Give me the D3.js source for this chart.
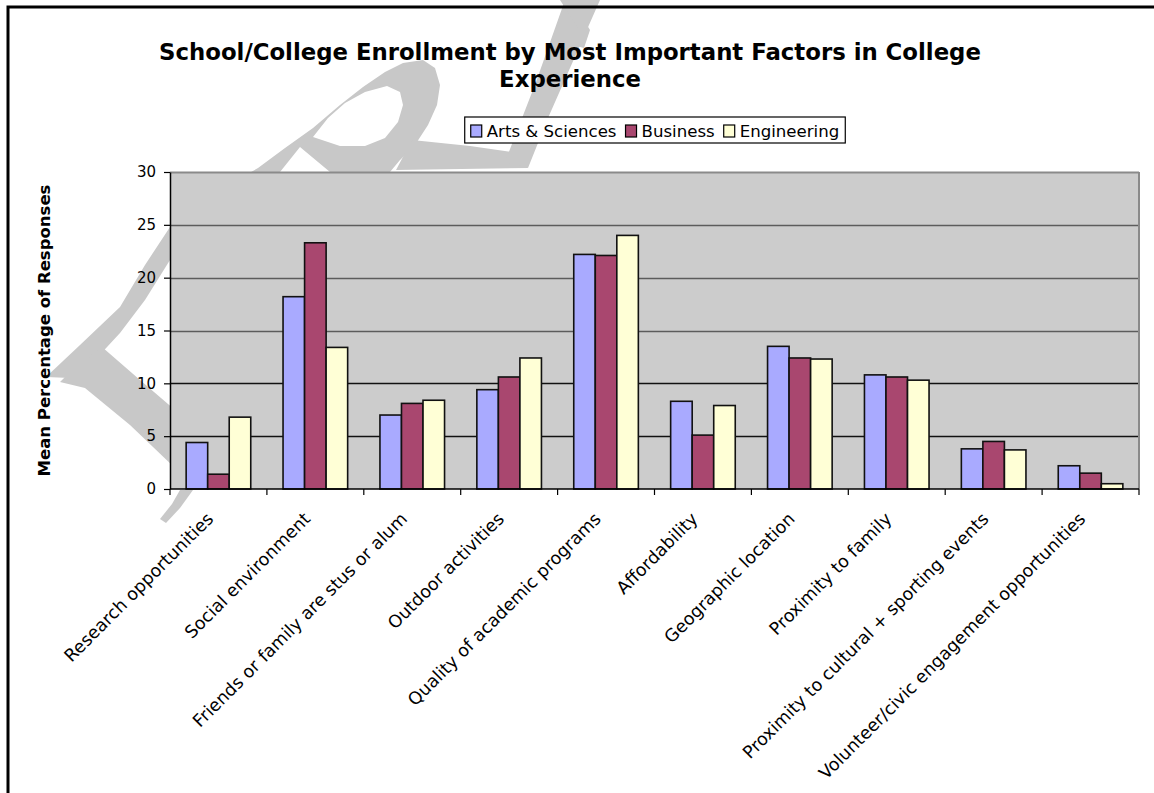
<!DOCTYPE html>
<html>
<head>
<meta charset="utf-8">
<script src="https://cdn.jsdelivr.net/npm/d3@7"></script>
<style>
  html, body { margin: 0; padding: 0; background: #ffffff; }
  svg { display: block; }
  text { font-family: "DejaVu Sans", Verdana, sans-serif; fill: #000; }
</style>
</head>
<body>
<svg id="chart" width="1154" height="793"></svg>
<script>
// Factors rated by students, grouped by school/college
const categories = [
  "Research opportunities",
  "Social environment",
  "Friends or family are stus or alum",
  "Outdoor activities",
  "Quality of academic programs",
  "Affordability",
  "Geographic location",
  "Proximity to family",
  "Proximity to cultural + sporting events",
  "Volunteer/civic engagement opportunities"
];
const seriesNames = ["Arts & Sciences", "Business", "Engineering"];
const artsSciences = [4.4, 18.2, 7.0, 9.4, 22.2, 8.3, 13.5, 10.8, 3.8, 2.2];
const business     = [1.4, 23.3, 8.1, 10.6, 22.1, 5.1, 12.4, 10.6, 4.5, 1.5];
const engineering  = [6.8, 13.4, 8.4, 12.4, 24.0, 7.9, 12.3, 10.3, 3.7, 0.5];
const yTicks = [0, 5, 10, 15, 20, 25, 30];

const seriesValues = [artsSciences, business, engineering];
const colors = ["#a9aaff", "#a9476f", "#ffffd6"];

const svg = d3.select("#chart");

// faint "draft" stamp drawn behind the chart body
const closed = d3.line().curve(d3.curveLinearClosed);
const stampShapes = [
  // stem rising from the left, looping over the top (with its open counter)
  closed([[46,377],[80,345],[120,307],[145,265],[170,227],[210,195],[258,168],[285,148],
          [313,128],[340,105],[363,87],[385,72],[403,63],[423,60],[435,68],[440,85],[437,105],
          [428,125],[415,145],[400,160],[390,172],[330,172],[300,147],[280,172],[220,215],
          [190,235],[170,260],[145,300],[120,333],[95,360],[70,378]]) +
  closed([[313,137],[328,118],[345,103],[365,92],[387,86],[400,92],[403,105],[398,122],
          [385,138],[365,146],[340,146]]),
  // lower arm
  closed([[70,372],[102,347],[140,380],[175,410],[175,468],[130,425],[85,388],[60,382]]),
  // foot running right
  closed([[412,140],[470,146],[512,152],[528,168],[396,170]]),
  // rising stroke on the right
  closed([[565,0],[600,0],[548,118],[528,168],[505,162],[536,82]]),
  // small curl near the top
  closed([[560,0],[572,0],[590,30],[584,48],[576,46],[578,28]]),
  // tail under the axis
  closed([[180,490],[193,490],[180,508],[166,523],[160,519],[172,504]])
];
svg.append("g").selectAll("path")
  .data(stampShapes)
  .join("path")
  .attr("d", d => d)
  .attr("fill-rule", "evenodd")
  .attr("fill", "#c8c8c8");

// outer chart frame (runs past the right and bottom edges)
svg.append("rect")
  .attr("x", 8).attr("y", 7)
  .attr("width", 1300).attr("height", 1000)
  .attr("fill", "none").attr("stroke", "#000").attr("stroke-width", 3);

// scales
const plot = { left: 170, right: 1139, top: 172, bottom: 489 };
const x0 = d3.scaleBand().domain(categories)
  .range([plot.left, plot.right]).paddingInner(0).paddingOuter(0);
const x1 = d3.scaleBand().domain(seriesNames)
  .range([0, x0.bandwidth()]).paddingInner(0).paddingOuter(0.75);
const y = d3.scaleLinear().domain([0, 30]).range([plot.bottom, plot.top]);

// plot area
svg.append("rect")
  .attr("x", plot.left).attr("y", plot.top)
  .attr("width", plot.right - plot.left).attr("height", plot.bottom - plot.top)
  .attr("fill", "#cccccc");

// horizontal gridlines
svg.append("g").selectAll("line")
  .data(yTicks.filter(t => t > 0))
  .join("line")
  .attr("x1", plot.left).attr("x2", plot.right)
  .attr("y1", d => Math.round(y(d)) + 0.5).attr("y2", d => Math.round(y(d)) + 0.5)
  .attr("stroke", d => d === 30 ? "#8a8a8a" : (d > 10 ? "#5c5c5c" : "#111"))
  .attr("stroke-width", d => d === 30 ? 2 : 1.4);

// right edge of the plot area
svg.append("line")
  .attr("x1", plot.right).attr("x2", plot.right)
  .attr("y1", plot.top).attr("y2", plot.bottom)
  .attr("stroke", "#8a8a8a").attr("stroke-width", 2);

// bars
const groups = svg.append("g").selectAll("g")
  .data(categories)
  .join("g")
  .attr("transform", c => `translate(${x0(c)},0)`);
groups.selectAll("rect")
  .data((c, i) => seriesNames.map((s, k) => ({ s, k, v: seriesValues[k][i] })))
  .join("rect")
  .attr("x", d => x1(d.s))
  .attr("width", x1.bandwidth())
  .attr("y", d => y(d.v))
  .attr("height", d => y(0) - y(d.v))
  .attr("fill", d => colors[d.k])
  .attr("stroke", "#111")
  .attr("stroke-width", 1.6);

// y axis
const yAxis = svg.append("g")
  .attr("transform", `translate(${plot.left},0)`)
  .call(d3.axisLeft(y).tickValues(yTicks).tickSize(6).tickPadding(8).tickSizeOuter(0));
yAxis.select(".domain").attr("stroke", "#000").attr("stroke-width", 1.5);
yAxis.selectAll(".tick line").attr("stroke", "#000").attr("stroke-width", 1.2);
yAxis.selectAll(".tick text")
  .style("font-family", "'DejaVu Sans', Verdana, sans-serif")
  .style("font-size", "15px")
  .attr("fill", "#000");

// x axis line and category boundary ticks
const xAxis = svg.append("g");
xAxis.append("line")
  .attr("x1", plot.left).attr("x2", plot.right)
  .attr("y1", plot.bottom).attr("y2", plot.bottom)
  .attr("stroke", "#000").attr("stroke-width", 1.5);
const boundaries = categories.map(c => x0(c)).concat([x0.range()[1]]);
xAxis.selectAll("line.tick")
  .data(boundaries)
  .join("line")
  .attr("class", "tick")
  .attr("x1", d => d).attr("x2", d => d)
  .attr("y1", plot.bottom).attr("y2", plot.bottom + 6)
  .attr("stroke", "#000").attr("stroke-width", 1.2);

// rotated category labels
svg.append("g").selectAll("text")
  .data(categories)
  .join("text")
  .attr("transform", c => `translate(${x0(c) + x0.bandwidth() / 2 - 4},${plot.bottom + 31}) rotate(-45)`)
  .attr("text-anchor", "end")
  .style("font-size", "17.5px")
  .text(c => c);

// y axis title
svg.append("text")
  .attr("transform", `translate(50,${(plot.top + plot.bottom) / 2}) rotate(-90)`)
  .attr("text-anchor", "middle")
  .style("font-size", "16.5px")
  .style("font-weight", "bold")
  .text("Mean Percentage of Responses");

// chart title
const title = svg.append("text")
  .attr("text-anchor", "middle")
  .style("font-size", "22.8px")
  .style("font-weight", "bold");
title.append("tspan").attr("x", 570).attr("y", 60)
  .text("School/College Enrollment by Most Important Factors in College");
title.append("tspan").attr("x", 570).attr("y", 87)
  .text("Experience");

// legend
const legend = svg.append("g");
const legendBox = legend.append("rect")
  .attr("fill", "#fff").attr("stroke", "#000").attr("stroke-width", 1.2);
const items = legend.selectAll("g")
  .data(seriesNames)
  .join("g");
items.append("rect")
  .attr("width", 11).attr("height", 12)
  .attr("y", -11.5)
  .attr("fill", (d, i) => colors[i])
  .attr("stroke", "#000").attr("stroke-width", 1.2);
items.append("text")
  .attr("x", 16)
  .attr("y", 0)
  .style("font-size", "16.6px")
  .text(d => d);
let cursor = 0;
const widths = [];
items.each(function () {
  widths.push(16 + this.querySelector("text").getComputedTextLength());
});
const gap = 9, pad = 6;
const totalW = d3.sum(widths) + gap * (widths.length - 1);
const legendCenter = 655, legendBaseline = 136.5;
const startX = legendCenter - totalW / 2;
items.attr("transform", (d, i) => {
  const tx = startX + cursor;
  cursor += widths[i] + gap;
  return `translate(${tx},${legendBaseline})`;
});
legendBox
  .attr("x", startX - pad).attr("y", 117)
  .attr("width", totalW + 2 * pad).attr("height", 26);
</script>
</body>
</html>
